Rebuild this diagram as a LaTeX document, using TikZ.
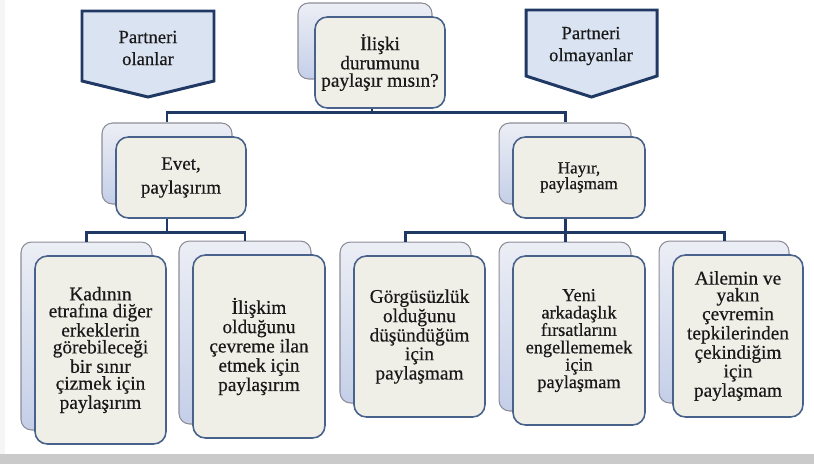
\documentclass[tikz,border=0pt]{standalone}
\usepackage{fontspec}
\setmainfont{Liberation Serif}
\newfontfamily\cardfont{Liberation Serif}[FakeBold=0.5]
\usetikzlibrary{positioning}
\usetikzlibrary{calc}

\definecolor{linkblue}{RGB}{31,56,100}
\definecolor{calloutfill}{RGB}{218,227,242}
\definecolor{cardfill}{RGB}{240,239,231}
\definecolor{cardedge}{RGB}{72,98,140}
\definecolor{backedge}{RGB}{140,140,152}
\definecolor{backtop}{RGB}{236,238,245}
\definecolor{backbot}{RGB}{196,207,232}
\definecolor{textgray}{RGB}{25,25,25}
\definecolor{bandgray}{RGB}{202,202,202}

% name, x, y, width, height, front options, text
\newcommand{\cardpair}[7]{%
  \node[backcard, minimum width={#4*0.569pt}, minimum height={#5*0.569pt}] (#1b) at (#2-14,#3-14) {};
  \node[frontcard, minimum width={#4*0.569pt}, minimum height={#5*0.569pt}, #6] (#1) at (#2,#3) {#7};}

\begin{document}
\begin{tikzpicture}[x=0.02cm, y=-0.02cm,
    frontcard/.style={draw=cardedge, line width=0.9pt, fill=cardfill, rounded corners=7pt,
      inner sep=0pt, align=center, text=textgray, font=\cardfont\fontsize{11}{9.6}\selectfont},
    backcard/.style={draw=backedge, line width=0.6pt, top color=backtop, bottom color=backbot,
      rounded corners=6pt, inner sep=0pt},
    callout/.style={draw=linkblue, line width=1.7pt, fill=calloutfill},
    calltext/.style={align=center, text=textgray, font=\cardfont\fontsize{10.6}{12.5}\selectfont},
    link/.style={draw=linkblue, line width=1.7pt}]
    \useasboundingbox (0,0) rectangle (814,464);
    \fill[gray!8] (0,0) rectangle (5,454);
    \fill[bandgray] (0,454) rectangle (814,464);

    % side notes
    \coordinate (olanC) at (148,46);
    \draw[callout] ($(olanC)+(-66,-35)$) -- ($(olanC)+(66,-35)$) -- ($(olanC)+(66,35)$)
      -- ($(olanC)+(0,51)$) -- ($(olanC)+(-66,35)$) -- cycle;
    \node[calltext] (olan) at (148,48) {Partneri\\olanlar};
    \coordinate (olmaC) at (591.5,43);
    \draw[callout] ($(olmaC)+(-65.5,-33)$) -- ($(olmaC)+(65.5,-33)$) -- ($(olmaC)+(65.5,33)$)
      -- ($(olmaC)+(0,54)$) -- ($(olmaC)+(-65.5,33)$) -- cycle;
    \node[calltext] (olma) at (591,46) {Partneri\\olmayanlar};

    % question
    \node[backcard, minimum width={134*0.569pt}, minimum height={76*0.569pt}] (askb) at (365,41) {};
    \node[frontcard, minimum width={130*0.569pt}, minimum height={91*0.569pt},
      font=\cardfont\fontsize{11}{9.9}\selectfont] (ask) at (380,62.5) {İlişki\\durumunu\\paylaşır mısın?};

    % answers
    \cardpair{evet}{181}{177.5}{130}{81}{font=\cardfont\fontsize{10.8}{13.6}\selectfont}{Evet,\\paylaşırım}
    \cardpair{hayir}{579}{177.5}{132}{81}{font=\cardfont\fontsize{9.7}{8.9}\selectfont}{Hayır,\\paylaşmam}

    % reasons
    \cardpair{kadin}{100.5}{350}{131}{188}{}{Kadının\\etrafına diğer\\erkeklerin\\görebileceği\\bir sınır\\çizmek için\\paylaşırım}
    \cardpair{ilan}{259}{346.5}{132}{183}{}{İlişkim\\olduğunu\\çevreme ilan\\etmek için\\paylaşırım}
    \cardpair{gorgu}{419.5}{336.5}{131}{161}{}{Görgüsüzlük\\olduğunu\\düşündüğüm\\için\\paylaşmam}
    \cardpair{yeni}{579}{340.5}{132}{169}{font=\cardfont\fontsize{10.4}{9.9}\selectfont}{Yeni\\arkadaşlık\\fırsatlarını\\engellememek\\için\\paylaşmam}
    \cardpair{aile}{738}{336}{130}{162}{}{Ailemin ve\\yakın\\çevremin\\tepkilerinden\\çekindiğim\\için\\paylaşmam}

    % connectors
    \coordinate (askj) at ([shift={(-8,4)}]ask.south);
    \draw[link] ([shift={(-8,0)}]ask.south) -- (askj);
    \draw[link] (askj) -| (evetb.north);
    \draw[link] (askj) -| (hayirb.north);

    \coordinate (evetj) at ($(evetb |- evet.south)+(0,14)$);
    \draw[link] (evetb |- evet.south) -- (evetj);
    \draw[link] (evetj) -| (kadinb.north);
    \draw[link] (evetj) -| (ilanb.north);

    \coordinate (hayirj) at ($(hayirb |- hayir.south)+(0,14)$);
    \draw[link] (hayirb |- hayir.south) -- (hayirj);
    \draw[link] (hayirj) -| (gorgub.north);
    \draw[link] (hayirj) -| (yenib.north);
    \draw[link] (hayirj) -| (aileb.north);
\end{tikzpicture}
\end{document}
